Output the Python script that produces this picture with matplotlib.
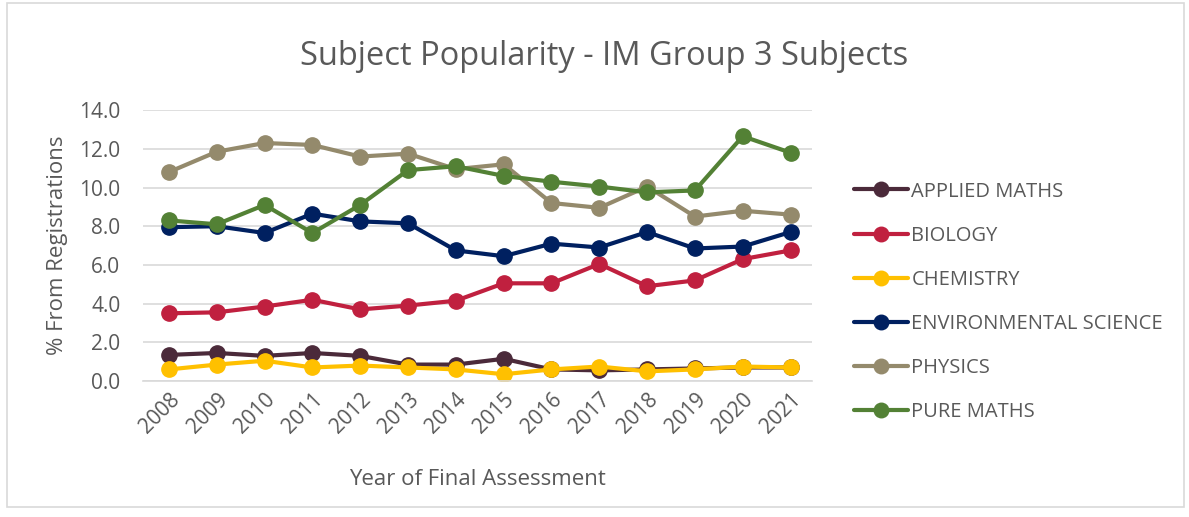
import matplotlib.pyplot as plt
import numpy as np

plt.rcParams['font.family'] = ['Open Sans', 'DejaVu Sans']

years = [str(y) for y in range(2008, 2022)]
applied_maths = [1.35, 1.45, 1.3, 1.45, 1.3, 0.85, 0.85, 1.15, 0.6, 0.55, 0.6, 0.65, 0.7, 0.7]
biology = [3.5, 3.55, 3.85, 4.2, 3.7, 3.9, 4.15, 5.05, 5.05, 6.05, 4.9, 5.2, 6.3, 6.75]
chemistry = [0.6, 0.85, 1.05, 0.7, 0.8, 0.7, 0.6, 0.35, 0.6, 0.75, 0.5, 0.6, 0.75, 0.7]
env_science = [7.95, 8.0, 7.65, 8.65, 8.25, 8.15, 6.75, 6.45, 7.1, 6.9, 7.7, 6.85, 6.95, 7.7]
physics = [10.8, 11.85, 12.3, 12.2, 11.6, 11.75, 10.95, 11.2, 9.2, 8.95, 10.05, 8.5, 8.8, 8.6]
pure_maths = [8.3, 8.1, 9.1, 7.65, 9.1, 10.9, 11.1, 10.6, 10.3, 10.05, 9.75, 9.85, 12.65, 11.8]

series = [
    ("APPLIED MATHS", applied_maths, "#4B2A3A"),
    ("BIOLOGY", biology, "#C0203F"),
    ("CHEMISTRY", chemistry, "#FFC000"),
    ("ENVIRONMENTAL SCIENCE", env_science, "#002060"),
    ("PHYSICS", physics, "#948A6C"),
    ("PURE MATHS", pure_maths, "#538135"),
]

txt = "#595959"
fig = plt.figure(figsize=(11.89, 5.17), dpi=100)
ax = fig.add_axes([0.120, 0.263, 0.563, 0.524])

x = np.arange(len(years))
for name, vals, col in series:
    ax.plot(x, vals, color=col, lw=3.0, marker='o', ms=11, label=name,
            solid_capstyle='round', solid_joinstyle='round')

ax.set_ylim(0, 14)
ax.set_xlim(-0.55, len(years) - 0.55)
ax.set_yticks(np.arange(0, 15, 2))
ax.set_yticklabels([f"{v:.1f}" for v in np.arange(0, 15, 2)])
ax.set_xticks(x)
ax.set_xticklabels(years, rotation=45, ha='right', rotation_mode='anchor')
ax.yaxis.grid(True, color='#D9D9D9', lw=1.2)
ax.set_axisbelow(True)
for s in ['top', 'right', 'left']:
    ax.spines[s].set_visible(False)
ax.spines['bottom'].set_color('#D9D9D9')
ax.spines['bottom'].set_linewidth(1.2)
ax.tick_params(axis='both', length=0, colors=txt, labelsize=15)
ax.tick_params(axis='y', pad=16)
ax.tick_params(axis='x', pad=6)

ax.set_ylabel("% From Registrations", color=txt, fontsize=16, labelpad=8)
ax.set_xlabel("Year of Final Assessment", color=txt, fontsize=16, labelpad=22)
fig.text(0.508, 0.89, "Subject Popularity - IM Group 3 Subjects", ha='center',
         va='center', color=txt, fontsize=23.5)

leg = fig.legend(loc='center left', bbox_to_anchor=(0.703, 0.416), frameon=False,
                 fontsize=14.5, labelcolor=txt, handlelength=2.7, handletextpad=0.15,
                 labelspacing=1.2, markerscale=0.95)

fig.patches.append(plt.Rectangle((0.006, 0.02), 0.99, 0.975, transform=fig.transFigure,
                                 fill=False, edgecolor='#D9D9D9', lw=1.2))

fig.savefig("out.png", dpi=100)
